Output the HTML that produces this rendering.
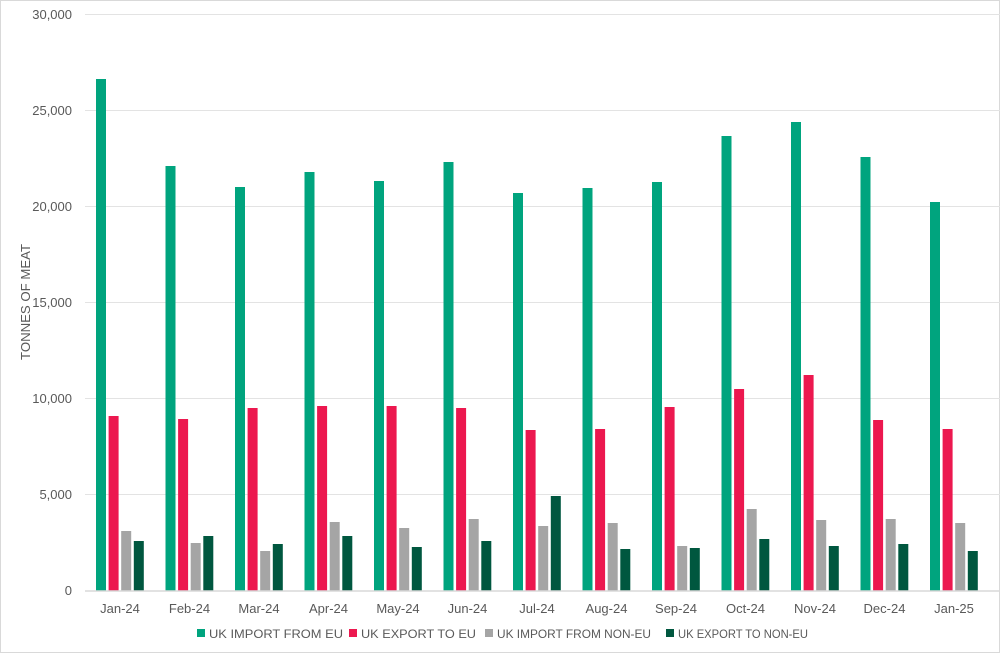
<!DOCTYPE html>
<html><head><meta charset="utf-8"><style>
html,body{margin:0;padding:0;background:#fff}
svg{display:block;font-family:"Liberation Sans",sans-serif}
</style></head><body>
<svg width="1000" height="653" viewBox="0 0 1000 653">
<rect x="0.5" y="0.5" width="999" height="652" fill="#fff" stroke="#d9d9d9"/>
<g stroke="#e3e3e3" stroke-width="1">
<line x1="85" x2="1000" y1="14.5" y2="14.5"/>
<line x1="85" x2="1000" y1="110.5" y2="110.5"/>
<line x1="85" x2="1000" y1="206.5" y2="206.5"/>
<line x1="85" x2="1000" y1="302.5" y2="302.5"/>
<line x1="85" x2="1000" y1="398.5" y2="398.5"/>
<line x1="85" x2="1000" y1="494.5" y2="494.5"/>
</g>
<g font-size="13" fill="#595959" text-anchor="end">
<text x="72" y="19">30,000</text>
<text x="72" y="115">25,000</text>
<text x="72" y="211">20,000</text>
<text x="72" y="307">15,000</text>
<text x="72" y="403">10,000</text>
<text x="72" y="499">5,000</text>
<text x="72" y="595">0</text>
</g>
<text transform="translate(30,302) rotate(-90)" font-size="13" fill="#595959" text-anchor="middle" textLength="116" lengthAdjust="spacingAndGlyphs">TONNES OF MEAT</text>
<g id="bars"></g>
<line x1="85" x2="1000" y1="591" y2="591" stroke="#d9d9d9" stroke-width="1.5"/>
<g id="xl" font-size="13" fill="#595959" text-anchor="middle"></g>
<g font-size="12" fill="#595959">
<rect x="197" y="629" width="8" height="8" fill="#00a47e"/><text x="209" y="638" textLength="134" lengthAdjust="spacingAndGlyphs">UK IMPORT FROM EU</text>
<rect x="349" y="629" width="8" height="8" fill="#ec184f"/><text x="361" y="638" textLength="115" lengthAdjust="spacingAndGlyphs">UK EXPORT TO EU</text>
<rect x="485" y="629" width="8" height="8" fill="#a5a5a5"/><text x="497" y="638" textLength="154" lengthAdjust="spacingAndGlyphs">UK IMPORT FROM NON-EU</text>
<rect x="666" y="629" width="8" height="8" fill="#00573f"/><text x="678" y="638" textLength="130" lengthAdjust="spacingAndGlyphs">UK EXPORT TO NON-EU</text>
</g>
</svg>
<script>
var labels=["Jan-24","Feb-24","Mar-24","Apr-24","May-24","Jun-24","Jul-24","Aug-24","Sep-24","Oct-24","Nov-24","Dec-24","Jan-25"];
var tops=[
[79,166,187,172,181,162,193,188,182,136,122,157,202],
[416,419,408,406,406,408,430,429,407,389,375,420,429],
[531,543,551,522,528,519,526,523,546,509,520,519,523],
[541,536,544,536,547,541,496,549,548,539,546,544,551]];
var cols=["#00a47e","#ec184f","#a5a5a5","#00573f"];
var ns="http://www.w3.org/2000/svg",b=document.getElementById("bars"),xl=document.getElementById("xl");
for(var i=0;i<13;i++){var c=120+i*69.5;
for(var s=0;s<4;s++){var r=document.createElementNS(ns,"rect");var x=c-24+s*12.6;
r.setAttribute("x",x);r.setAttribute("y",tops[s][i]);r.setAttribute("width",10);r.setAttribute("height",591-tops[s][i]);r.setAttribute("fill",cols[s]);b.appendChild(r);}
var t=document.createElementNS(ns,"text");t.setAttribute("x",c);t.setAttribute("y",613);t.textContent=labels[i];xl.appendChild(t);}
</script>
</body></html>
